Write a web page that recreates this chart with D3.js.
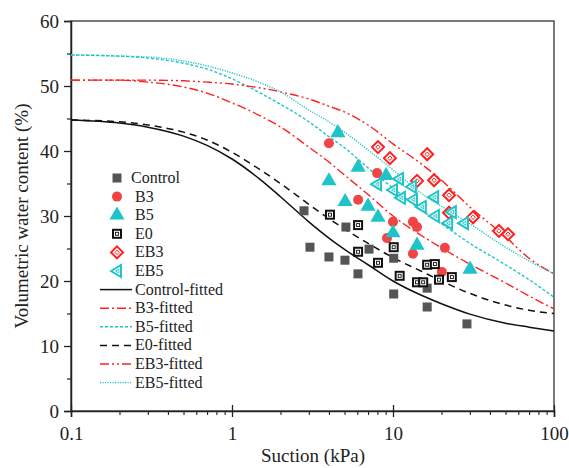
<!DOCTYPE html>
<html><head><meta charset="utf-8">
<script src="https://cdn.jsdelivr.net/npm/d3@7/dist/d3.min.js"></script>
<style>body{margin:0;background:#fff}svg{display:block}</style>
</head><body><svg id="c" width="569" height="468"></svg>
<script>
// ---- data ----
const controlPts = [[2.8,30.8],[3.05,25.2],[4.0,23.7],[5.03,23.2],[6.06,21.1],[5.1,28.3],[7.1,24.9],[10.1,23.5],[10.1,18.0],[16.3,18.9],[16.3,16.0],[28.8,13.4]];
const b3Pts = [[4.0,41.2],[6.07,32.5],[7.96,36.6],[10.0,29.1],[9.18,26.6],[13.3,29.1],[14.1,28.3],[13.3,24.2],[21.0,25.1],[20.1,21.4]];
const b5Pts = [[4.55,42.8],[6.07,37.5],[4.0,35.4],[9.06,36.2],[5.04,32.2],[7.0,31.5],[8.07,29.8],[10.0,27.4],[14.1,25.5],[30.1,21.8]];
const e0Pts = [[4.06,30.2],[6.07,28.6],[6.07,24.5],[8.07,22.8],[10.1,25.2],[11.0,20.8],[14.1,19.8],[15.4,19.8],[16.3,22.5],[18.2,22.6],[19.3,20.2],[23.2,20.6]];
const eb3Pts = [[8.07,40.6],[9.57,38.9],[16.3,39.5],[14.1,35.4],[18.0,35.5],[22.3,33.2],[22.3,30.5],[31.4,29.8],[45.5,27.7],[51.8,27.2]];
const eb5Pts = [[7.96,34.9],[10.9,35.7],[13.1,34.5],[10.0,34.0],[11.2,32.8],[13.3,32.5],[15.1,31.4],[18.0,32.9],[18.2,30.0],[23.2,30.6],[22.0,28.9],[27.6,28.9]];

const fitSuction = [0.1,0.2,0.3,0.5,0.7,1,1.5,2,3,4,5,7,10,15,20,30,50,70,100];
const controlFit = [44.77,44.3,43.67,42.29,40.86,38.77,35.6,32.97,29.1,26.6,24.85,22.5,20.0,17.8,16.5,14.9,13.5,12.9,12.3];
const b3Fit = [50.9,50.9,50.6,49.85,48.9,47.4,45.4,43.7,40.6,38.3,36.3,33.3,30.0,27.0,25.1,22.6,19.7,17.7,15.7];
const b5Fit = [54.77,54.6,54.3,53.5,52.6,51.1,48.9,47.2,44.5,42.2,40.5,37.4,34.3,30.9,28.8,25.8,22.5,20.2,17.5];
const e0Fit = [44.77,44.5,44.0,42.9,41.7,39.8,37.1,35.0,31.8,29.6,28.0,25.8,23.6,21.5,20.0,18.1,16.3,15.5,15.0];
const eb3Fit = [50.9,50.9,50.9,50.8,50.6,50.3,49.7,49.1,48.0,46.9,46.0,44.0,41.1,38.0,35.5,31.4,26.8,23.5,21.1];
const eb5Fit = [54.77,54.6,54.46,53.85,53.1,52.0,50.5,49.1,46.3,44.5,42.9,40.15,37.1,33.5,31.5,28.8,25.2,23.1,21.1];

const xTicks = [0.1,1,10,100];
const xTickLabels = ["0.1","1","10","100"];
const yTicks = [0,10,20,30,40,50,60];

const legendNames = ["Control","B3","B5","E0","EB3","EB5","Control-fitted","B3-fitted","B5-fitted","E0-fitted","EB3-fitted","EB5-fitted"];

// ---- drawing ----
const FONT = "'Times New Roman', Times, 'Liberation Serif', 'DejaVu Serif', serif";
const svg = d3.select("#c").style("font-family", FONT);
const L=71,R=554,T=21,B=411;
const x = d3.scaleLog().domain([0.1,100]).range([L,R]);
const y = d3.scaleLinear().domain([0,60]).range([B,T]);

const RED="#ff1f1f", RED2="#f24444", CYAN="#1fc4c8", GRAY="#555555";

// frame
svg.append("rect").attr("x",L).attr("y",T).attr("width",R-L).attr("height",B-T)
  .attr("fill","none").attr("stroke","#222").attr("stroke-width",1.2);

// y axis
const yAxis = svg.append("g").attr("transform",`translate(${L},0)`)
  .call(d3.axisLeft(y).tickValues(yTicks).tickSize(7).tickFormat(d3.format("d")));
yAxis.attr("font-family",null).style("font-family",FONT);
yAxis.select(".domain").attr("stroke","#222").attr("stroke-width",1.5);
yAxis.selectAll(".tick line").attr("stroke","#222").attr("stroke-width",1.3);
yAxis.selectAll("text").attr("font-size",19).attr("fill","#222").attr("dx","-2").style("font-family",FONT);
svg.append("g").attr("transform",`translate(${L},0)`)
  .call(d3.axisLeft(y).tickValues([5,15,25,35,45,55]).tickSize(4).tickFormat(""))
  .call(g=>{g.select(".domain").remove();g.selectAll("line").attr("stroke","#222").attr("stroke-width",1.2);});

// x axis
const minor=[];
for(let d=0.1; d<100; d*=10) for(let k=2;k<=9;k++) minor.push(+(d*k).toPrecision(3));
const xAxis = svg.append("g").attr("transform",`translate(0,${B})`)
  .call(d3.axisBottom(x).tickValues(xTicks).tickSize(6).tickFormat((d,i)=>xTickLabels[i]));
xAxis.attr("font-family",null).style("font-family",FONT);
xAxis.select(".domain").attr("stroke","#222").attr("stroke-width",1.5);
xAxis.selectAll(".tick line").attr("stroke","#222").attr("stroke-width",1.3).attr("y1",-6);
xAxis.selectAll("text").attr("font-size",19).attr("fill","#222").attr("dy","1.05em").style("font-family",FONT);
svg.append("g").attr("transform",`translate(0,${B})`)
  .call(d3.axisBottom(x).tickValues(minor).tickSize(4).tickFormat(""))
  .call(g=>{g.select(".domain").remove();g.selectAll("line").attr("stroke","#222").attr("stroke-width",1.1);});

// axis titles
svg.append("text").attr("x",313).attr("y",462).attr("text-anchor","middle").attr("font-size",19).style("font-family",FONT).attr("fill","#222").text("Suction (kPa)");
svg.append("text").attr("transform","translate(28,216) rotate(-90)").attr("text-anchor","middle").attr("font-size",19).style("font-family",FONT).attr("fill","#222").text("Volumetric water content (%)");

// fitted lines
const lineStyles = [
  {data:controlFit, color:"#111", dash:null, w:1.5},
  {data:b3Fit, color:RED, dash:"9,3,2,3", w:1.4},
  {data:b5Fit, color:CYAN, dash:"3,2", w:1.4},
  {data:e0Fit, color:"#111", dash:"7,5", w:1.5},
  {data:eb3Fit, color:RED, dash:"9,3,2,3,2,3", w:1.4},
  {data:eb5Fit, color:CYAN, dash:"1.2,1.3", w:1.4}
];
const line = d3.line().x(d=>x(d[0])).y(d=>y(d[1])).curve(d3.curveMonotoneX);
const plot = svg.append("g");
lineStyles.forEach(s=>{
  plot.append("path").datum(fitSuction.map((v,i)=>[v,s.data[i]]))
    .attr("d",line).attr("fill","none").attr("stroke",s.color).attr("stroke-width",s.w)
    .attr("stroke-dasharray",s.dash);
});

// markers
function marker(g, type){
  if(type==="Control"){
    g.append("rect").attr("x",-4.5).attr("y",-4.5).attr("width",9).attr("height",9).attr("fill",GRAY);
  } else if(type==="B3"){
    g.append("circle").attr("r",5).attr("fill",RED2);
  } else if(type==="B5"){
    g.append("path").attr("d",d3.symbol(d3.symbolTriangle,100)()).attr("fill",CYAN);
  } else if(type==="E0"){
    g.append("rect").attr("x",-4).attr("y",-4).attr("width",8).attr("height",8).attr("fill","#fff").attr("stroke","#111").attr("stroke-width",2);
    g.append("rect").attr("x",-1.5).attr("y",-1.5).attr("width",3).attr("height",3).attr("fill","none").attr("stroke","#111").attr("stroke-width",0.9);
  } else if(type==="EB3"){
    g.append("path").attr("d","M0,-6L6,0L0,6L-6,0Z").attr("fill","#fff").attr("stroke",RED).attr("stroke-width",2);
    g.append("path").attr("d","M0,-2.2L2.2,0L0,2.2L-2.2,0Z").attr("fill","none").attr("stroke",RED).attr("stroke-width",1);
  } else if(type==="EB5"){
    g.append("path").attr("d","M-6,0L4,-6L4,6Z").attr("fill","#fff").attr("stroke",CYAN).attr("stroke-width",2);
    g.append("path").attr("d","M-1.5,0L1.8,-2L1.8,2Z").attr("fill","none").attr("stroke",CYAN).attr("stroke-width",0.9);
  }
}
const sets = [["Control",controlPts],["B3",b3Pts],["B5",b5Pts],["E0",e0Pts],["EB3",eb3Pts],["EB5",eb5Pts]];
sets.forEach(([name,pts])=>{
  plot.selectAll(null).data(pts).enter().append("g")
    .attr("transform",d=>`translate(${x(d[0])},${y(d[1])})`)
    .each(function(){marker(d3.select(this),name);});
});

// legend
const lg = svg.append("g");
legendNames.forEach((n,i)=>{
  const yy = 178 + i*18.6;
  if(i<6){
    const g = lg.append("g").attr("transform",`translate(117,${yy})`);
    marker(g,n);
  } else {
    const s = lineStyles[i-6];
    lg.append("line").attr("x1",100).attr("x2",132).attr("y1",yy).attr("y2",yy)
      .attr("stroke",s.color).attr("stroke-width",s.w).attr("stroke-dasharray",s.dash);
  }
  lg.append("text").attr("x", i===0?131:135).attr("y",yy+5).attr("font-size",16).style("font-family",FONT).attr("fill","#222").text(n);
});
</script></body></html>
